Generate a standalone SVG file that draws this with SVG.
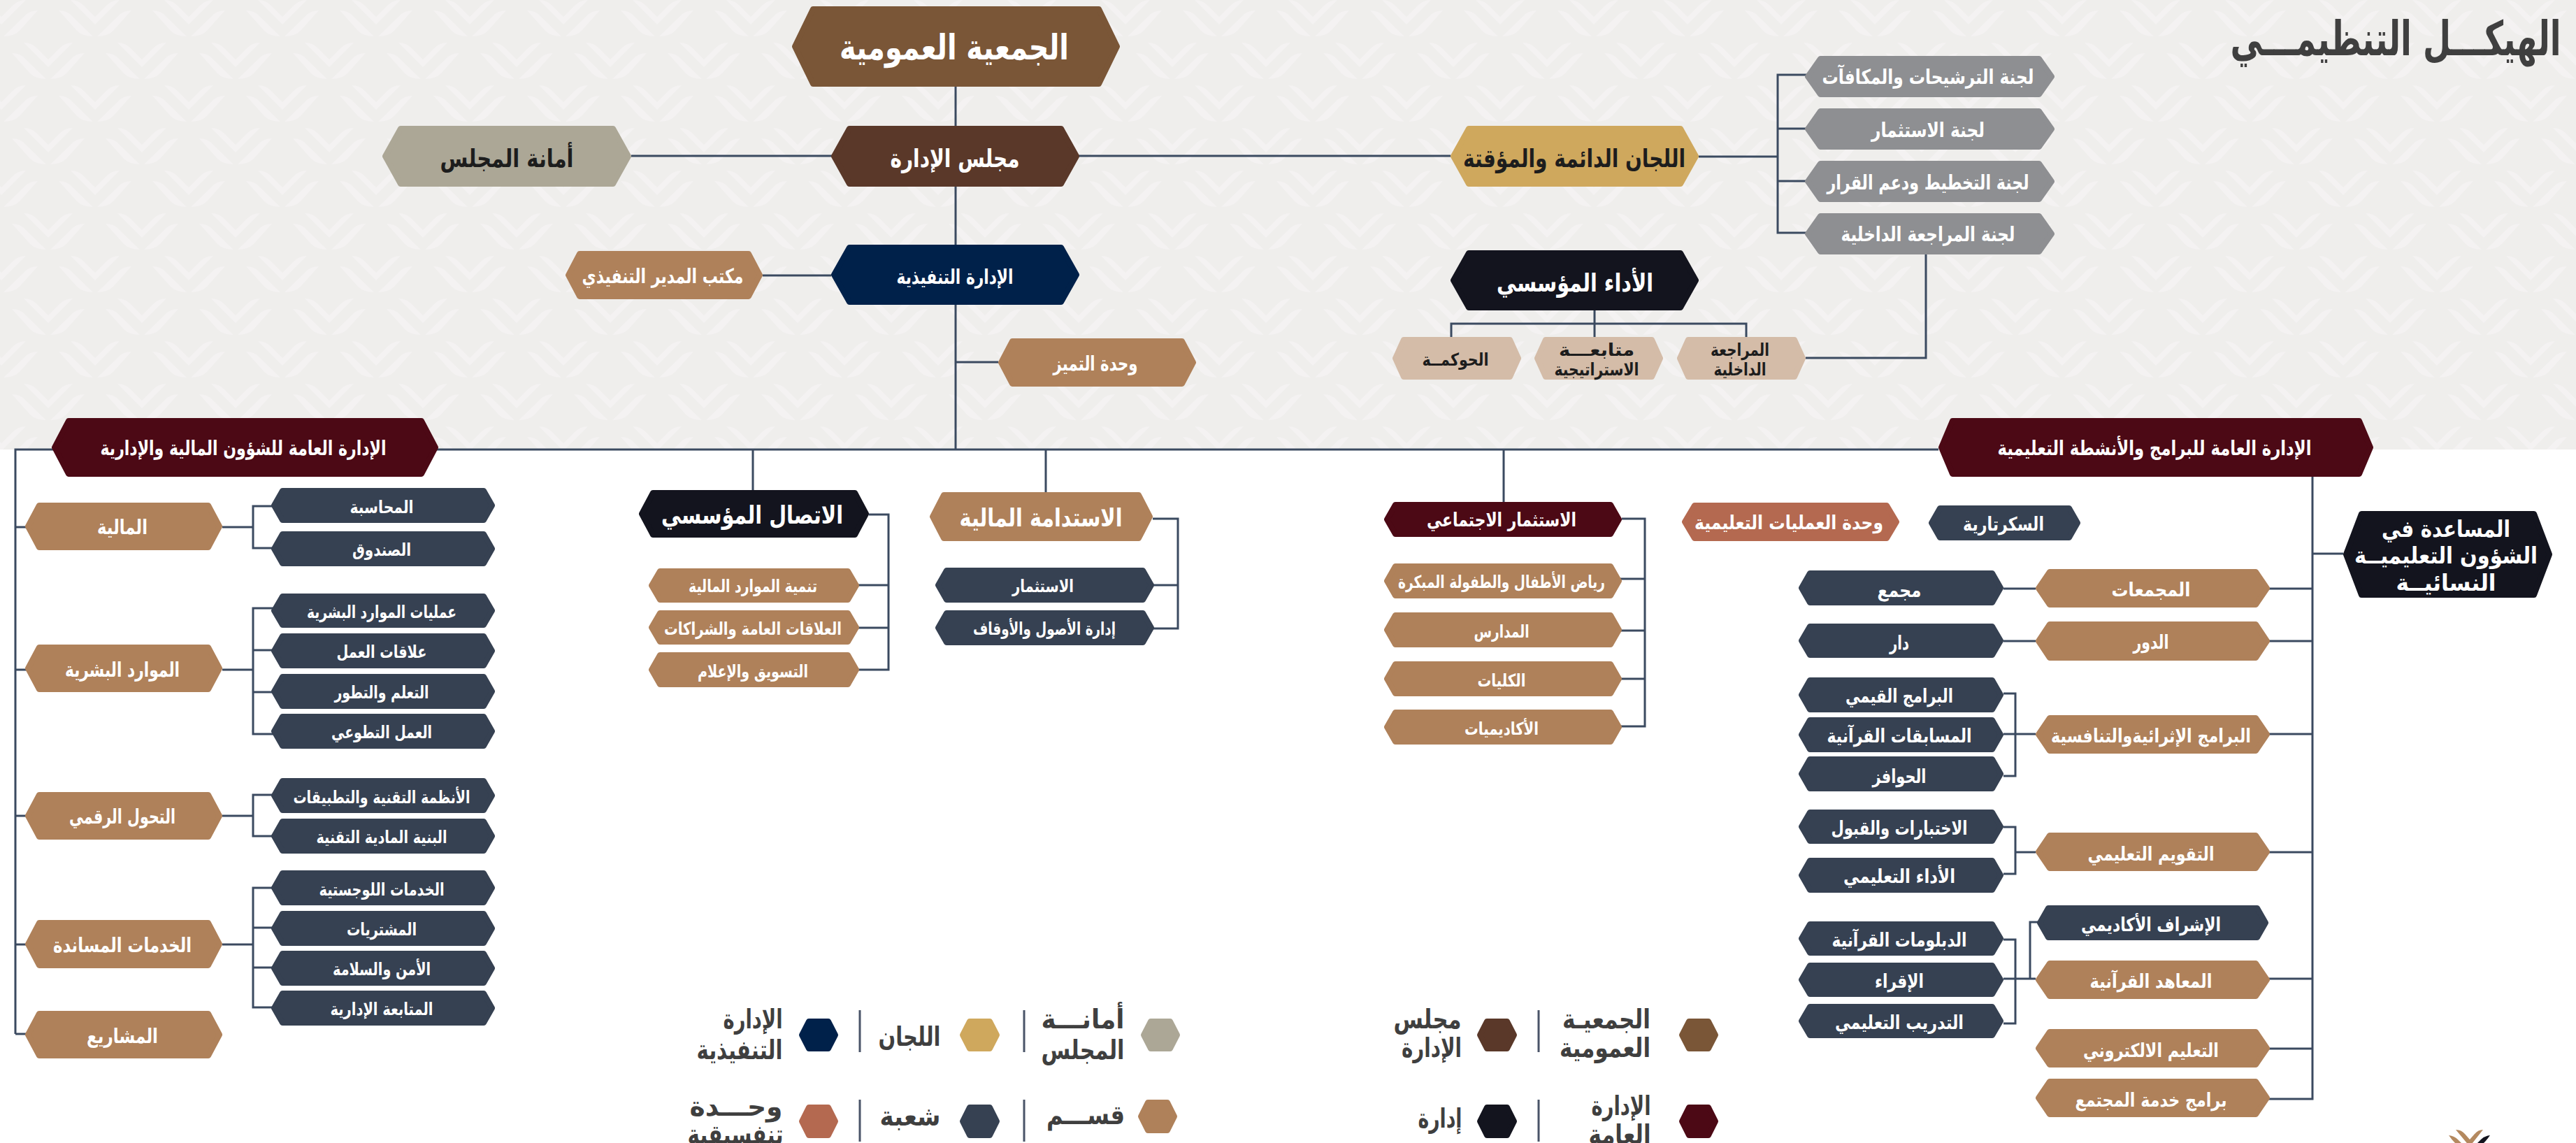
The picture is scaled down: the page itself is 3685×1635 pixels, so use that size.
<svg xmlns="http://www.w3.org/2000/svg" xmlns:xlink="http://www.w3.org/1999/xlink" width="3685" height="1635" viewBox="0 0 3685 1635">
<style>
text{font-family:"DejaVu Sans","Noto Sans",sans-serif;font-weight:700;text-anchor:middle;dominant-baseline:central;fill:#fff}
polygon{stroke-width:8;stroke-linejoin:round}
.conn{fill:none;stroke:#3b4a60;stroke-width:3}
.div{fill:none;stroke:#4a5468;stroke-width:3}
.f62{font-size:68px}.f44{font-size:50px}.f40{font-size:38px}.f32{font-size:36px}.f30{font-size:33px}.f26{font-size:29px}.f24{font-size:27px}.f22{font-size:25px}
.dt{fill:#3f3f3f}.bt{fill:#1d1d1d}
.jam polygon{fill:#7a5637;stroke:#7a5637}
.maj polygon{fill:#5a3829;stroke:#5a3829}
.ama polygon{fill:#aca796;stroke:#aca796}
.com polygon{fill:#cfa85d;stroke:#cfa85d}
.exe polygon{fill:#00214a;stroke:#00214a}
.per polygon{fill:#13141e;stroke:#13141e}
.gry polygon{fill:#8e8f92;stroke:#8e8f92}
.bei polygon{fill:#d4bca8;stroke:#d4bca8}
.gm polygon{fill:#4c0915;stroke:#4c0915}
.kis polygon{fill:#af815a;stroke:#af815a}
.shu polygon{fill:#364152;stroke:#364152}
.uni polygon{fill:#b46950;stroke:#b46950}
</style>
<defs>
<g id="chev"><path d="M-35 0Q-23 0-15 9L0 24 15 9Q23 0 35 0L0 35Z"/><path d="M-52 15Q-39 15-32 24L-3 52Q-18 52-26 44Z"/><path d="M52 15Q39 15 32 24L3 52Q18 52 26 44Z"/></g>
<pattern id="bgp" patternUnits="userSpaceOnUse" width="134" height="122"><rect width="134" height="122" fill="#efeeec"/><g fill="#f4f2f2"><use xlink:href="#chev" href="#chev" x="2"/><use xlink:href="#chev" href="#chev" x="136"/><use xlink:href="#chev" href="#chev" x="69" y="61"/></g></pattern>
</defs>
<rect width="3685" height="1635" fill="#fff"/>
<rect width="3685" height="643" fill="url(#bgp)"/>
<text class="f62 dt" x="3427" y="55" textLength="473" lengthAdjust="spacingAndGlyphs">الهيكـــل التنظيمـــي</text>
<g id="connectors" class="conn">
<path d="M1367 124V644M903 223H2075M1091 394H1189M1367 518H1428"/>
<path d="M2430 224H2543M2590 107H2543V333H2590M2543 184H2590M2543 259H2590"/>
<path d="M2281 444V482M2076 482V463H2498V482M2755 364V512H2583"/>
<path d="M22 1479V643H2773M22 754H40M22 958H40M22 1167H40M22 1351H40M22 1479H40"/>
<path d="M318 754H362M395 724H362V784H395"/>
<path d="M318 958H362M395 870H362V1050H395M362 930H395M362 990H395"/>
<path d="M318 1167H362M395 1137H362V1196H395"/>
<path d="M318 1351H362M395 1270H362V1441H395M362 1327H395M362 1384H395"/>
<path d="M1077 643V701M1243 736H1271V958H1225M1271 837H1225M1271 898H1225"/>
<path d="M1496 644V704M1649 742H1685V899H1648M1685 837H1648"/>
<path d="M2151 644V718M2320 742H2353V1039H2318M2353 828H2318M2353 902H2318M2353 971H2318"/>
<path d="M3308 681V1572H3245M3308 792H3352M3308 842H3245M3308 917H3245M3308 1050H3245M3308 1219H3245M3308 1400H3245M3308 1500H3245"/>
<path d="M2912 842H2866M2912 917H2866"/>
<path d="M2866 992H2883V1110H2866M2866 1050H2912"/>
<path d="M2866 1183H2883V1250H2866M2883 1219H2912"/>
<path d="M2866 1344H2883V1464H2866M2866 1400H2912M2904 1400V1319H2916"/>
</g>
<g id="n-jameya" class="jam"><polygon points="1137,66.5 1163,13 1572,13 1598,66.5 1572,120 1163,120"/><text class="f44" x="1365" y="68" textLength="328" lengthAdjust="spacingAndGlyphs">الجمعية العمومية</text></g>
<g id="n-majlis" class="maj"><polygon points="1193,223.5 1215,184 1518,184 1540,223.5 1518,263 1215,263"/><text class="f32" x="1366" y="226" textLength="185" lengthAdjust="spacingAndGlyphs">مجلس الإدارة</text></g>
<g id="n-amana" class="ama"><polygon points="551,223.5 573,184 877,184 899,223.5 877,263 573,263"/><text class="f32 bt" x="725" y="226" textLength="191" lengthAdjust="spacingAndGlyphs">أمانة المجلس</text></g>
<g id="n-lijan" class="com"><polygon points="2079,223.5 2101,184 2404,184 2426,223.5 2404,263 2101,263"/><text class="f32 bt" x="2252" y="226" textLength="318" lengthAdjust="spacingAndGlyphs">اللجان الدائمة والمؤقتة</text></g>
<g id="n-tanfiz" class="exe"><polygon points="1193,393 1215,354 1518,354 1540,393 1518,432 1215,432"/><text class="f26" x="1366" y="396" textLength="167" lengthAdjust="spacingAndGlyphs">الإدارة التنفيذية</text></g>
<g id="n-ada" class="per"><polygon points="2079,401 2101,362 2404,362 2426,401 2404,440 2101,440"/><text class="f32" x="2253" y="404" textLength="224" lengthAdjust="spacingAndGlyphs">الأداء المؤسسي</text></g>
<g id="n-office" class="kis"><polygon points="813,393.5 829,363 1071,363 1087,393.5 1071,424 829,424"/><text class="f26" x="948" y="395" textLength="231" lengthAdjust="spacingAndGlyphs">مكتب المدير التنفيذي</text></g>
<g id="n-tamayuz" class="kis"><polygon points="1432,518.5 1448,488 1691,488 1707,518.5 1691,549 1448,549"/><text class="f26" x="1567" y="520" textLength="121" lengthAdjust="spacingAndGlyphs">وحدة التميز</text></g>
<g id="n-c1" class="gry"><polygon points="2586,109.5 2604,84 2917,84 2935,109.5 2917,135 2604,135"/><text class="f26" x="2758" y="110" textLength="303" lengthAdjust="spacingAndGlyphs">لجنة الترشيحات والمكافآت</text></g>
<g id="n-c2" class="gry"><polygon points="2586,184.5 2604,159 2917,159 2935,184.5 2917,210 2604,210"/><text class="f26" x="2758" y="186" textLength="162" lengthAdjust="spacingAndGlyphs">لجنة الاستثمار</text></g>
<g id="n-c3" class="gry"><polygon points="2586,259.5 2604,234 2917,234 2935,259.5 2917,285 2604,285"/><text class="f26" x="2758" y="261" textLength="289" lengthAdjust="spacingAndGlyphs">لجنة التخطيط ودعم القرار</text></g>
<g id="n-c4" class="gry"><polygon points="2586,334.5 2604,309 2917,309 2935,334.5 2917,360 2604,360"/><text class="f26" x="2758" y="335" textLength="249" lengthAdjust="spacingAndGlyphs">لجنة المراجعة الداخلية</text></g>
<g id="n-hok" class="bei"><polygon points="1996,512.5 2008,486 2160,486 2172,512.5 2160,539 2008,539"/><text class="f22 bt" x="2082" y="514" textLength="95" lengthAdjust="spacingAndGlyphs">الحوكمــة</text></g>
<g id="n-mut" class="bei"><polygon points="2199,512.5 2211,486 2363,486 2375,512.5 2363,539 2211,539"/><text class="f22 bt" x="2284" y="500" textLength="108" lengthAdjust="spacingAndGlyphs">متابعـــة</text><text class="f22 bt" x="2284" y="528" textLength="121" lengthAdjust="spacingAndGlyphs">الاستراتيجية</text></g>
<g id="n-mur" class="bei"><polygon points="2403,512.5 2415,486 2567,486 2579,512.5 2567,539 2415,539"/><text class="f22 bt" x="2489" y="500" textLength="84" lengthAdjust="spacingAndGlyphs">المراجعة</text><text class="f22 bt" x="2489" y="528" textLength="75" lengthAdjust="spacingAndGlyphs">الداخلية</text></g>
<g id="n-gm1" class="gm"><polygon points="78,640 98,602 603,602 623,640 603,678 98,678"/><text class="f26" x="348" y="641" textLength="409" lengthAdjust="spacingAndGlyphs">الإدارة العامة للشؤون المالية والإدارية</text></g>
<g id="n-gm2" class="gm"><polygon points="2777,640 2793,602 3375,602 3391,640 3375,678 2793,678"/><text class="f26" x="3082" y="641" textLength="449" lengthAdjust="spacingAndGlyphs">الإدارة العامة للبرامج والأنشطة التعليمية</text></g>
<g id="n-maliya" class="kis"><polygon points="40,753 56,723 298,723 314,753 298,783 56,783"/><text class="f26" x="175" y="754" textLength="72" lengthAdjust="spacingAndGlyphs">المالية</text></g>
<g id="n-hr" class="kis"><polygon points="40,956 56,926 298,926 314,956 298,986 56,986"/><text class="f26" x="175" y="958" textLength="164" lengthAdjust="spacingAndGlyphs">الموارد البشرية</text></g>
<g id="n-dig" class="kis"><polygon points="40,1167 56,1137 298,1137 314,1167 298,1197 56,1197"/><text class="f26" x="175" y="1168" textLength="152" lengthAdjust="spacingAndGlyphs">التحول الرقمي</text></g>
<g id="n-sup" class="kis"><polygon points="40,1350.5 56,1320 298,1320 314,1350.5 298,1381 56,1381"/><text class="f26" x="175" y="1352" textLength="198" lengthAdjust="spacingAndGlyphs">الخدمات المساندة</text></g>
<g id="n-pro" class="kis"><polygon points="40,1480 56,1450 298,1450 314,1480 298,1510 56,1510"/><text class="f26" x="175" y="1482" textLength="102" lengthAdjust="spacingAndGlyphs">المشاريع</text></g>
<g id="n-s1" class="shu"><polygon points="392,723 404,702 692,702 704,723 692,744 404,744"/><text class="f22" x="546" y="725" textLength="91" lengthAdjust="spacingAndGlyphs">المحاسبة</text></g>
<g id="n-s2" class="shu"><polygon points="392,785 404,764 692,764 704,785 692,806 404,806"/><text class="f22" x="546" y="786" textLength="84" lengthAdjust="spacingAndGlyphs">الصندوق</text></g>
<g id="n-s3" class="shu"><polygon points="392,873.5 404,853 692,853 704,873.5 692,894 404,894"/><text class="f22" x="546" y="875" textLength="214" lengthAdjust="spacingAndGlyphs">عمليات الموارد البشرية</text></g>
<g id="n-s4" class="shu"><polygon points="392,931 404,910 692,910 704,931 692,952 404,952"/><text class="f22" x="546" y="932" textLength="129" lengthAdjust="spacingAndGlyphs">علاقات العمل</text></g>
<g id="n-s5" class="shu"><polygon points="392,989 404,968 692,968 704,989 692,1010 404,1010"/><text class="f22" x="546" y="990" textLength="135" lengthAdjust="spacingAndGlyphs">التعلم والتطور</text></g>
<g id="n-s6" class="shu"><polygon points="392,1046 404,1025 692,1025 704,1046 692,1067 404,1067"/><text class="f22" x="546" y="1047" textLength="144" lengthAdjust="spacingAndGlyphs">العمل التطوعي</text></g>
<g id="n-s7" class="shu"><polygon points="392,1138 404,1117 692,1117 704,1138 692,1159 404,1159"/><text class="f22" x="546" y="1140" textLength="253" lengthAdjust="spacingAndGlyphs">الأنظمة التقنية والتطبيقات</text></g>
<g id="n-s8" class="shu"><polygon points="392,1196 404,1175 692,1175 704,1196 692,1217 404,1217"/><text class="f22" x="546" y="1197" textLength="187" lengthAdjust="spacingAndGlyphs">البنية المادية التقنية</text></g>
<g id="n-s9" class="shu"><polygon points="392,1270 404,1249 692,1249 704,1270 692,1291 404,1291"/><text class="f22" x="546" y="1272" textLength="179" lengthAdjust="spacingAndGlyphs">الخدمات اللوجستية</text></g>
<g id="n-s10" class="shu"><polygon points="392,1328 404,1307 692,1307 704,1328 692,1349 404,1349"/><text class="f22" x="546" y="1329" textLength="100" lengthAdjust="spacingAndGlyphs">المشتريات</text></g>
<g id="n-s11" class="shu"><polygon points="392,1385 404,1364 692,1364 704,1385 692,1406 404,1406"/><text class="f22" x="546" y="1386" textLength="140" lengthAdjust="spacingAndGlyphs">الأمن والسلامة</text></g>
<g id="n-s12" class="shu"><polygon points="392,1442 404,1421 692,1421 704,1442 692,1463 404,1463"/><text class="f22" x="546" y="1443" textLength="147" lengthAdjust="spacingAndGlyphs">المتابعة الإدارية</text></g>
<g id="n-itisal" class="per"><polygon points="918,735 934,705 1223,705 1239,735 1223,765 934,765"/><text class="f32" x="1076" y="736" textLength="260" lengthAdjust="spacingAndGlyphs">الاتصال المؤسسي</text></g>
<g id="n-i1" class="kis"><polygon points="932,837.5 944,817 1213,817 1225,837.5 1213,858 944,858"/><text class="f22" x="1077" y="838" textLength="184" lengthAdjust="spacingAndGlyphs">تنمية الموارد المالية</text></g>
<g id="n-i2" class="kis"><polygon points="932,897.5 944,877 1213,877 1225,897.5 1213,918 944,918"/><text class="f22" x="1077" y="899" textLength="254" lengthAdjust="spacingAndGlyphs">العلاقات العامة والشراكات</text></g>
<g id="n-i3" class="kis"><polygon points="932,958 944,937 1213,937 1225,958 1213,979 944,979"/><text class="f22" x="1077" y="960" textLength="158" lengthAdjust="spacingAndGlyphs">التسويق والإعلام</text></g>
<g id="n-sus" class="kis"><polygon points="1334,739 1350,708 1629,708 1645,739 1629,770 1350,770"/><text class="f32" x="1489" y="740" textLength="233" lengthAdjust="spacingAndGlyphs">الاستدامة المالية</text></g>
<g id="n-su1" class="shu"><polygon points="1342,837 1354,816 1635,816 1647,837 1635,858 1354,858"/><text class="f22" x="1492" y="838" textLength="88" lengthAdjust="spacingAndGlyphs">الاستثمار</text></g>
<g id="n-su2" class="shu"><polygon points="1342,898 1354,877 1635,877 1647,898 1635,919 1354,919"/><text class="f22" x="1494" y="899" textLength="204" lengthAdjust="spacingAndGlyphs">إدارة الأصول والأوقاف</text></g>
<g id="n-soc" class="gm"><polygon points="1984,743 1996,722 2304,722 2316,743 2304,764 1996,764"/><text class="f24" x="2148" y="743" textLength="214" lengthAdjust="spacingAndGlyphs">الاستثمار الاجتماعي</text></g>
<g id="n-so1" class="kis"><polygon points="1984,831 1996,810 2304,810 2316,831 2304,852 1996,852"/><text class="f22" x="2148" y="832" textLength="296" lengthAdjust="spacingAndGlyphs">رياض الأطفال والطفولة المبكرة</text></g>
<g id="n-so2" class="kis"><polygon points="1984,901 1996,880 2304,880 2316,901 2304,922 1996,922"/><text class="f22" x="2148" y="903" textLength="79" lengthAdjust="spacingAndGlyphs">المدارس</text></g>
<g id="n-so3" class="kis"><polygon points="1984,971 1996,950 2304,950 2316,971 2304,992 1996,992"/><text class="f22" x="2148" y="973" textLength="69" lengthAdjust="spacingAndGlyphs">الكليات</text></g>
<g id="n-so4" class="kis"><polygon points="1984,1040 1996,1019 2304,1019 2316,1040 2304,1061 1996,1061"/><text class="f22" x="2148" y="1042" textLength="106" lengthAdjust="spacingAndGlyphs">الأكاديميات</text></g>
<g id="n-ops" class="uni"><polygon points="2410,746.5 2424,723 2699,723 2713,746.5 2699,770 2424,770"/><text class="f24" x="2559" y="747" textLength="270" lengthAdjust="spacingAndGlyphs">وحدة العمليات التعليمية</text></g>
<g id="n-sek" class="shu"><polygon points="2763,748 2775,727 2960,727 2972,748 2960,769 2775,769"/><text class="f24" x="2866" y="749" textLength="116" lengthAdjust="spacingAndGlyphs">السكرتارية</text></g>
<g id="n-assist" class="per"><polygon points="3356,793 3378,735 3625,735 3647,793 3625,851 3378,851"/><text class="f30" x="3499" y="756" textLength="184" lengthAdjust="spacingAndGlyphs">المساعدة في</text><text class="f30" x="3499" y="794" textLength="262" lengthAdjust="spacingAndGlyphs">الشؤون التعليميــة</text><text class="f30" x="3499" y="833" textLength="143" lengthAdjust="spacingAndGlyphs">النسائيــة</text></g>
<g id="n-r1" class="kis"><polygon points="2916,841.5 2932,818 3227,818 3243,841.5 3227,865 2932,865"/><text class="f24" x="3077" y="843" textLength="113" lengthAdjust="spacingAndGlyphs">المجمعات</text></g>
<g id="n-r2" class="kis"><polygon points="2916,917 2932,893 3227,893 3243,917 3227,941 2932,941"/><text class="f24" x="3077" y="918" textLength="51" lengthAdjust="spacingAndGlyphs">الدور</text></g>
<g id="n-r3" class="kis"><polygon points="2916,1050.5 2932,1027 3227,1027 3243,1050.5 3227,1074 2932,1074"/><text class="f24" x="3077" y="1052" textLength="286" lengthAdjust="spacingAndGlyphs">البرامج الإثرائيةوالتنافسية</text></g>
<g id="n-r4" class="kis"><polygon points="2916,1218.5 2932,1195 3227,1195 3243,1218.5 3227,1242 2932,1242"/><text class="f24" x="3077" y="1221" textLength="181" lengthAdjust="spacingAndGlyphs">التقويم التعليمي</text></g>
<g id="n-r5" class="kis"><polygon points="2916,1401.5 2932,1378 3227,1378 3243,1401.5 3227,1425 2932,1425"/><text class="f24" x="3077" y="1403" textLength="175" lengthAdjust="spacingAndGlyphs">المعاهد القرآنية</text></g>
<g id="n-r6" class="kis"><polygon points="2916,1499.5 2932,1476 3227,1476 3243,1499.5 3227,1523 2932,1523"/><text class="f24" x="3077" y="1502" textLength="194" lengthAdjust="spacingAndGlyphs">التعليم الالكتروني</text></g>
<g id="n-r7" class="kis"><polygon points="2916,1570.5 2932,1547 3227,1547 3243,1570.5 3227,1594 2932,1594"/><text class="f24" x="3077" y="1573" textLength="217" lengthAdjust="spacingAndGlyphs">برامج خدمة المجتمع</text></g>
<g id="n-r8" class="shu"><polygon points="2918,1320 2930,1299 3229,1299 3241,1320 3229,1341 2930,1341"/><text class="f24" x="3077" y="1322" textLength="200" lengthAdjust="spacingAndGlyphs">الإشراف الأكاديمي</text></g>
<g id="n-d1" class="shu"><polygon points="2577,841 2589,820 2850,820 2862,841 2850,862 2589,862"/><text class="f24" x="2717" y="844" textLength="63" lengthAdjust="spacingAndGlyphs">مجمع</text></g>
<g id="n-d2" class="shu"><polygon points="2577,916.5 2589,896 2850,896 2862,916.5 2850,937 2589,937"/><text class="f24" x="2717" y="919" textLength="28" lengthAdjust="spacingAndGlyphs">دار</text></g>
<g id="n-d3" class="shu"><polygon points="2577,994 2589,973 2850,973 2862,994 2850,1015 2589,1015"/><text class="f24" x="2717" y="995" textLength="154" lengthAdjust="spacingAndGlyphs">البرامج القيمي</text></g>
<g id="n-d4" class="shu"><polygon points="2577,1051 2589,1030 2850,1030 2862,1051 2850,1072 2589,1072"/><text class="f24" x="2717" y="1052" textLength="207" lengthAdjust="spacingAndGlyphs">المسابقات القرآنية</text></g>
<g id="n-d5" class="shu"><polygon points="2577,1107 2589,1086 2850,1086 2862,1107 2850,1128 2589,1128"/><text class="f24" x="2717" y="1110" textLength="77" lengthAdjust="spacingAndGlyphs">الحوافز</text></g>
<g id="n-d6" class="shu"><polygon points="2577,1182.5 2589,1162 2850,1162 2862,1182.5 2850,1203 2589,1203"/><text class="f24" x="2717" y="1184" textLength="195" lengthAdjust="spacingAndGlyphs">الاختبارات والقبول</text></g>
<g id="n-d7" class="shu"><polygon points="2577,1252 2589,1231 2850,1231 2862,1252 2850,1273 2589,1273"/><text class="f24" x="2717" y="1253" textLength="160" lengthAdjust="spacingAndGlyphs">الأداء التعليمي</text></g>
<g id="n-d8" class="shu"><polygon points="2577,1342.5 2589,1322 2850,1322 2862,1342.5 2850,1363 2589,1363"/><text class="f24" x="2717" y="1344" textLength="193" lengthAdjust="spacingAndGlyphs">الدبلومات القرآنية</text></g>
<g id="n-d9" class="shu"><polygon points="2577,1401.5 2589,1381 2850,1381 2862,1401.5 2850,1422 2589,1422"/><text class="f24" x="2717" y="1403" textLength="70" lengthAdjust="spacingAndGlyphs">الإقراء</text></g>
<g id="n-d10" class="shu"><polygon points="2577,1460.5 2589,1440 2850,1440 2862,1460.5 2850,1481 2589,1481"/><text class="f24" x="2717" y="1462" textLength="184" lengthAdjust="spacingAndGlyphs">التدريب التعليمي</text></g>
<g id="legend-dividers" class="div"><path d="M2201 1445V1505M1465 1445V1505M1230 1445V1505M2201 1573V1633M1465 1573V1633M1230 1573V1633"/></g>
<g id="l-jam" class="jam"><polygon points="2406,1480.5 2416,1461 2444,1461 2454,1480.5 2444,1500 2416,1500"/><text class="f40 dt" x="2298" y="1458" textLength="126" lengthAdjust="spacingAndGlyphs">الجمعيـة</text><text class="f40 dt" x="2296" y="1499" textLength="130" lengthAdjust="spacingAndGlyphs">العمومية</text></g>
<g id="l-maj" class="maj"><polygon points="2117,1480.5 2127,1461 2156,1461 2166,1480.5 2156,1500 2127,1500"/><text class="f40 dt" x="2042" y="1458" textLength="97" lengthAdjust="spacingAndGlyphs">مجلس</text><text class="f40 dt" x="2048" y="1499" textLength="86" lengthAdjust="spacingAndGlyphs">الإدارة</text></g>
<g id="l-ama" class="ama"><polygon points="1636,1480.5 1646,1461 1674,1461 1684,1480.5 1674,1500 1646,1500"/><text class="f40 dt" x="1549" y="1458" textLength="119" lengthAdjust="spacingAndGlyphs">أمانـــة</text><text class="f40 dt" x="1549" y="1502" textLength="119" lengthAdjust="spacingAndGlyphs">المجلس</text></g>
<g id="l-com" class="com"><polygon points="1377,1480.5 1387,1461 1416,1461 1426,1480.5 1416,1500 1387,1500"/><text class="f40 dt" x="1301" y="1483" textLength="89" lengthAdjust="spacingAndGlyphs">اللجان</text></g>
<g id="l-exe" class="exe"><polygon points="1147,1480.5 1157,1461 1185,1461 1195,1480.5 1185,1500 1157,1500"/><text class="f40 dt" x="1077" y="1458" textLength="85" lengthAdjust="spacingAndGlyphs">الإدارة</text><text class="f40 dt" x="1058" y="1502" textLength="123" lengthAdjust="spacingAndGlyphs">التنفيذية</text></g>
<g id="l-gm" class="gm"><polygon points="2406,1604 2416,1584 2444,1584 2454,1604 2444,1624 2416,1624"/><text class="f40 dt" x="2319" y="1582" textLength="85" lengthAdjust="spacingAndGlyphs">الإدارة</text><text class="f40 dt" x="2317" y="1623" textLength="89" lengthAdjust="spacingAndGlyphs">العامة</text></g>
<g id="l-per" class="per"><polygon points="2117,1604 2127,1584 2156,1584 2166,1604 2156,1624 2127,1624"/><text class="f40 dt" x="2060" y="1600" textLength="63" lengthAdjust="spacingAndGlyphs">إدارة</text></g>
<g id="l-kis" class="kis"><polygon points="1632,1597 1642,1577 1670,1577 1680,1597 1670,1617 1642,1617"/><text class="f40 dt" x="1553" y="1595" textLength="112" lengthAdjust="spacingAndGlyphs">قســـم</text></g>
<g id="l-shu" class="shu"><polygon points="1377,1604 1387,1584 1416,1584 1426,1604 1416,1624 1387,1624"/><text class="f40 dt" x="1302" y="1597" textLength="87" lengthAdjust="spacingAndGlyphs">شعبة</text></g>
<g id="l-uni" class="uni"><polygon points="1147,1604 1157,1584 1185,1584 1195,1604 1185,1624 1157,1624"/><text class="f40 dt" x="1053" y="1583" textLength="133" lengthAdjust="spacingAndGlyphs">وحـــدة</text><text class="f40 dt" x="1052" y="1623" textLength="137" lengthAdjust="spacingAndGlyphs">تنفسيقية</text></g>
<g id="logo"><path fill="#b4895f" d="M3513 1616Q3521 1616 3526 1622L3533 1630 3540 1622Q3545 1616 3552 1616L3533 1640ZM3503 1624Q3511 1625 3516 1630L3521 1635 3512 1635Q3507 1630 3503 1624Z"/><path fill="#13141e" d="M3562 1624Q3554 1625 3549 1630L3544 1635 3553 1635Q3558 1630 3562 1624Z"/></g>
</svg>
